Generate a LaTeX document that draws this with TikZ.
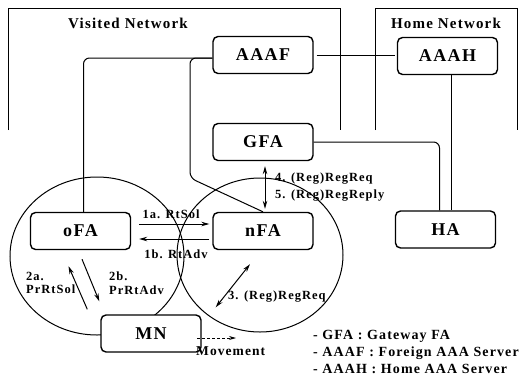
\documentclass[tikz,border=0pt]{standalone}
\usepackage{fontspec}
\setmainfont{Liberation Serif}[LetterSpace=8]
\usetikzlibrary{arrows.meta}

\begin{document}
\begin{tikzpicture}
[
    x=1pt, y=-1pt,
    agent/.style={draw, fill=white, line width=1.4pt, rounded corners=5pt, minimum width=100pt,
        minimum height=37pt, inner sep=0pt, font=\fontsize{18}{20}\selectfont\bfseries},
    msg/.style={font=\fontsize{12.5}{13.5}\selectfont\bfseries, inner sep=0pt},
    note/.style={font=\fontsize{14}{16}\selectfont\bfseries, inner sep=0pt, anchor=west},
    link/.style={line width=1pt, rounded corners=6pt},
    arr/.style={line width=1pt, -{Stealth[length=8pt,width=4.5pt]}},
    darr/.style={line width=1pt, {Stealth[length=8pt,width=4.5pt]}-{Stealth[length=8pt,width=4.5pt]}},
]
\useasboundingbox (0,0) rectangle (519,378);

% network regions
\draw[line width=1pt] (8,130) -- (8,8) -- (340,8) -- (340,130);
\draw[line width=1pt] (375,130) -- (375,8) -- (517,8) -- (517,130);
\node[font=\fontsize{15}{17}\selectfont\bfseries] (visited) at (128,23) {Visited Network};
\node[font=\fontsize{15}{17}\selectfont\bfseries] (home) at (446,23) {Home Network};

% coverage areas
\draw[line width=1pt] (97,256) ellipse [x radius=87pt, y radius=79pt];
\draw[line width=1pt] (260,255) ellipse [x radius=83pt, y radius=77pt];

\node[agent] (AAAF) at (263,55) {AAAF};
\node[agent] (AAAH) at (447.5,56) {AAAH};
\node[agent] (GFA) at (263,142) {GFA};
\node[agent] (HA) at (445.5,229.5) {HA};
\node[agent] (oFA) at (80.5,231) {oFA};
\node[agent] (nFA) at (263,231) {nFA};
\node[agent] (MN) at (151,333.5) {MN};

\coordinate (bend) at (190,178);

% wired links
\draw[link] ([xshift=3pt]AAAF.east) -- ([xshift=-2pt]AAAF.east -| AAAH.west);
\draw[link] ([yshift=-3pt]AAAF.west) -| ([xshift=3pt]oFA.north);
\draw[link] ([yshift=-3pt]AAAF.west) -| (bend) -- (nFA.north);
\draw[link] (GFA.east) -| ([xshift=-6pt]HA.north);
\draw[link] ([xshift=4pt]AAAH.south) -- ([xshift=4pt]AAAH.south |- HA.north);

% signalling
\draw[arr] ([shift={(8pt,7pt)}]oFA.east) -- ([shift={(-3pt,7pt)}]nFA.west);
\draw[arr] ([shift={(-3pt,-8pt)}]nFA.west) -- ([shift={(8pt,-8pt)}]oFA.east);
\draw[arr] ([shift={(-13pt,5pt)}]MN.north west) -- ([shift={(-12pt,-16pt)}]oFA.south);
\draw[arr] ([shift={(1.5pt,-9pt)}]oFA.south) -- ([shift={(-1pt,13pt)}]MN.north west);
\draw[darr] ([shift={(14pt,7pt)}]MN.north east) -- ([shift={(-13pt,-14pt)}]nFA.south);
\draw[darr] ([shift={(2pt,-5pt)}]GFA.south) -- ([shift={(2pt,3pt)}]nFA.north);

\node[msg] (m1a) at (171,214) {1a. RtSol};
\node[msg] (m1b) at (176,254) {1b. RtAdv};
\node[msg, anchor=west, align=left] (m2a) at (26,283) {2a.\\PrRtSol};
\node[msg, anchor=west, align=left] (m2b) at (109,283) {2b.\\PrRtAdv};
\node[msg, anchor=west] (m3) at (228,297) {3. (Reg)RegReq};
\node[msg, anchor=west] (m4) at (275,179) {4. (Reg)RegReq};
\node[msg, anchor=west] (m5) at (275,196) {5. (Reg)RegReply};

% movement
\coordinate (mvA) at (197,338);
\coordinate (mvB) at (236,338);
\draw[line width=0.8pt, densely dashed, -{Stealth[length=7pt,width=4pt]}] (mvA) -- (mvB);
\node[msg, anchor=west, font=\fontsize{13.5}{15}\selectfont\bfseries] (move) at (196,351) {Movement};

% legend
\node[note] (k1) at (313,336) {- GFA : Gateway FA};
\node[note] (k2) at (313,353) {- AAAF : Foreign AAA Server};
\node[note] (k3) at (313,369) {- AAAH : Home AAA Server};
\end{tikzpicture}
\end{document}
